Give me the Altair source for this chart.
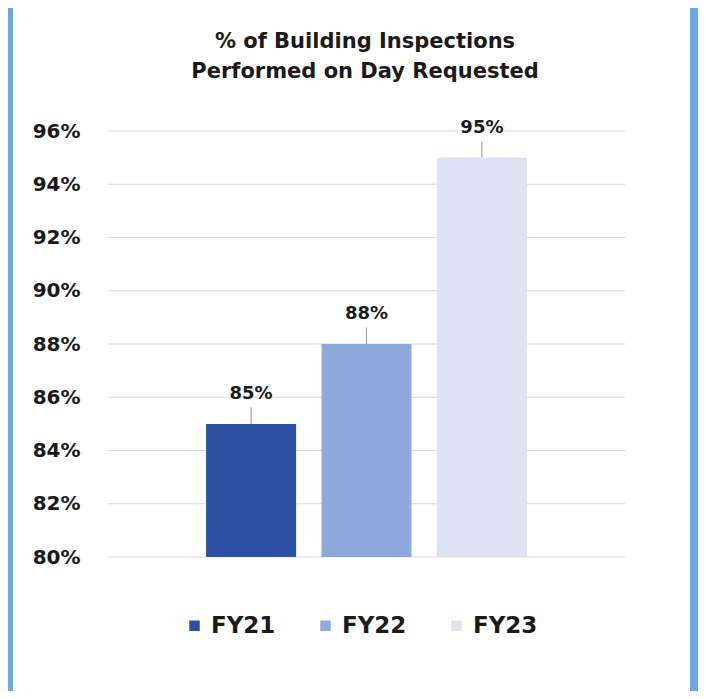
import altair as alt
import pandas as pd

years = ["FY21", "FY22", "FY23"]
values = [85, 88, 95]
labels = ["85%", "88%", "95%"]
colors = ["#2d51a2", "#8eaadc", "#dde3f3"]
y_ticks = [80, 82, 84, 86, 88, 90, 92, 94, 96]
title_lines = ["% of Building Inspections", "Performed on Day Requested"]

df = pd.DataFrame({"year": years, "value": values, "label": labels})
ticks_df = pd.DataFrame({"value": y_ticks})

FONT = "DejaVu Sans"
W, H = 517, 426
PAD_L, PAD_T = 100, 123
TOTAL_W, TOTAL_H = 690, 683

x_enc = alt.X("year:N", sort=years, axis=None,
              scale=alt.Scale(paddingInner=0.22, paddingOuter=0.85))
y_axis = alt.Axis(values=y_ticks, labelExpr="datum.value + '%'",
                  title=None, domain=False, ticks=False, grid=False,
                  labelPadding=28, labelFontSize=20,
                  labelFont=FONT, labelFontWeight="bold",
                  labelColor="#1a1a1a", zindex=1)
y_enc = alt.Y("value:Q", scale=alt.Scale(domain=[80, 96], nice=False, zero=False),
              axis=y_axis)

one = pd.DataFrame({"a": [0]})

panel = alt.Chart(one).mark_rect(color="white").encode(
    x=alt.value(13 - 8 - PAD_L), x2=alt.value(TOTAL_W + 20 - PAD_L),
    y=alt.value(6 - 8 - PAD_T), y2=alt.value(TOTAL_H + 20 - PAD_T)
)
# blue strip on the right edge of the frame
strip = alt.Chart(one).mark_rect(color="#6ca8e0").encode(
    x=alt.value(690 - 8 - PAD_L), x2=alt.value(TOTAL_W + 20 - PAD_L),
    y=alt.value(-PAD_T - 10), y2=alt.value(TOTAL_H + 20 - PAD_T)
)

grid = alt.Chart(ticks_df).mark_rule(color="#d9d9d9", strokeWidth=1).encode(
    y=y_enc
)

bars = alt.Chart(df).mark_bar().encode(
    x=x_enc,
    y=y_enc,
    y2=alt.datum(80),
    color=alt.Color("year:N", sort=years,
                    scale=alt.Scale(domain=years, range=colors),
                    legend=alt.Legend(orient="none", direction="horizontal",
                                      legendX=75, legendY=483,
                                      title=None, symbolType="square",
                                      symbolSize=110, symbolStrokeWidth=0,
                                      labelFont=FONT, labelFontWeight="bold",
                                      labelFontSize=23, labelColor="#1a1a1a",
                                      labelOffset=5, columnPadding=38))
)

leaders = alt.Chart(df).transform_calculate(top="datum.value + 0.62").mark_rule(
    color="#999999", strokeWidth=1
).encode(
    x=x_enc,
    y=y_enc,
    y2="top:Q"
)

texts = alt.Chart(df).mark_text(
    font=FONT, fontWeight="bold", fontSize=18, color="#1a1a1a", dy=-30
).encode(
    x=x_enc,
    y=y_enc,
    text="label:N"
)

title1 = alt.Chart(one).mark_text(
    font=FONT, fontWeight="bold", fontSize=21, color="#1a1a1a", align="center"
).encode(x=alt.value(257), y=alt.value(-89), text=alt.value(title_lines[0]))
title2 = alt.Chart(one).mark_text(
    font=FONT, fontWeight="bold", fontSize=21, color="#1a1a1a", align="center"
).encode(x=alt.value(257), y=alt.value(-59), text=alt.value(title_lines[1]))

chart = alt.layer(panel, strip, grid, bars, leaders, texts, title1, title2).properties(
    width=W, height=H,
    autosize=alt.AutoSizeParams(type="none"),
    padding={"left": PAD_L, "top": PAD_T,
             "right": TOTAL_W - PAD_L - W, "bottom": TOTAL_H - PAD_T - H},
    background="#6ca8e0"
).configure_view(stroke=None)

chart.save("out.html", embed_options={"renderer": "svg", "actions": False})
